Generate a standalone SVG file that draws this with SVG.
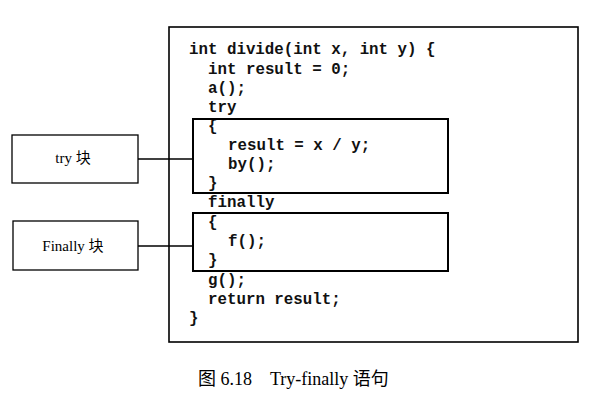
<svg xmlns="http://www.w3.org/2000/svg" width="591" height="402" viewBox="0 0 591 402">
<style>
.box{fill:none;stroke:#000;stroke-width:1.6}
.lbl{fill:#fff;stroke:#000;stroke-width:1.3}
.code{font-family:"Liberation Mono","DejaVu Sans Mono",monospace;font-weight:bold;font-size:15.8px;fill:#111;white-space:pre}
.t{font-family:"Liberation Serif","Noto Sans CJK SC",serif;font-size:15px;fill:#000;text-anchor:middle}
.cap{font-family:"Liberation Serif","Noto Sans CJK SC",serif;font-size:18px;fill:#000;white-space:pre}
.conn{stroke:#000;stroke-width:1.3;fill:none}
</style>
<rect width="591" height="402" fill="#fff"/>
<g id="code">
<rect class="box" x="169" y="27" width="409" height="315"/>
<text class="code" x="189" y="54">int divide(int x, int y) {</text>
<text class="code" x="208" y="74">int result = 0;</text>
<text class="code" x="208" y="93">a();</text>
<text class="code" x="208" y="112">try</text>
<text class="code" x="208" y="131">{</text>
<text class="code" x="228" y="150">result = x / y;</text>
<text class="code" x="228" y="169">by();</text>
<text class="code" x="208" y="188">}</text>
<text class="code" x="208" y="207">finally</text>
<text class="code" x="208" y="227">{</text>
<text class="code" x="228" y="246">f();</text>
<text class="code" x="208" y="265">}</text>
<text class="code" x="208" y="285">g();</text>
<text class="code" x="208" y="304">return result;</text>
<text class="code" x="189" y="323">}</text>
</g>
<g id="tryBlock"><rect class="box" x="193" y="119" width="255" height="74" style="stroke-width:2"/></g>
<g id="finallyBlock"><rect class="box" x="193" y="213" width="255" height="58" style="stroke-width:2"/></g>
<g id="tryLabel">
<rect class="lbl" x="12" y="135" width="126" height="48"/>
<text class="t" x="73" y="163">try 块</text>
</g>
<g id="finallyLabel">
<rect class="lbl" x="13" y="221" width="125" height="49"/>
<text class="t" x="73" y="251">Finally 块</text>
</g>
<g id="connectors">
<line class="conn" x1="138" y1="159" x2="193" y2="159"/>
<line class="conn" x1="138" y1="246" x2="193" y2="246"/>
</g>
<text class="cap" x="198" y="385">图 6.18    Try-finally 语句</text>
</svg>
